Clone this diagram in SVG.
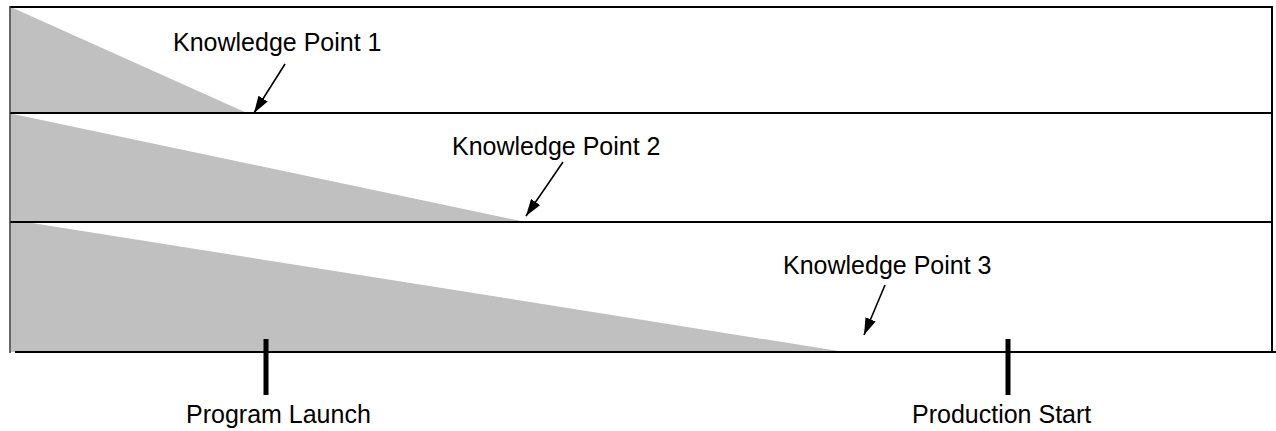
<svg xmlns="http://www.w3.org/2000/svg" width="1276" height="431" viewBox="0 0 1276 431">
<style>
.bg{fill:#fff}
.wedge{fill:#c0c0c0;stroke:none}
.frame{stroke:#000;stroke-width:2;fill:none}
.side{stroke:#333;stroke-width:1.5;fill:none}
.tick{stroke:#000;stroke-width:5}
.arrow{stroke:#000;stroke-width:1.6;fill:none;marker-end:url(#ah)}
.lbl{font-family:"Liberation Sans",Arial,sans-serif;font-size:25px;fill:#000}
</style>
<defs>
<marker id="ah" viewBox="0 0 17 11" refX="17" refY="5.5" markerWidth="17" markerHeight="11" markerUnits="userSpaceOnUse" orient="auto">
<path d="M0,0 L17,5.5 L0,11 Z" fill="#000"/>
</marker>
</defs>
<rect class="bg" x="0" y="0" width="1276" height="431"/>
<g id="bands">
<polygon class="wedge" points="11,8 13,8 247,113 11,113"/>
<polygon class="wedge" points="11,114 13,114 526,222 11,222"/>
<polygon class="wedge" points="11,223 32,223 845,352 11,352"/>
</g>
<g id="frame">
<line class="frame" x1="10" y1="7" x2="1273" y2="7"/>
<line class="frame" x1="10" y1="113" x2="1273" y2="113"/>
<line class="frame" x1="10" y1="222" x2="1273" y2="222"/>
<line class="frame" x1="15" y1="352" x2="1276" y2="352"/>
<line class="side" x1="10" y1="6" x2="10" y2="353"/>
<line class="frame" x1="1272" y1="6" x2="1272" y2="352"/>
</g>
<g id="kp1">
<text class="lbl" x="173" y="51">Knowledge Point 1</text>
</g>
<g id="kp2">
<text class="lbl" x="452" y="155">Knowledge Point 2</text>
</g>
<g id="kp3">
<text class="lbl" x="783" y="274">Knowledge Point 3</text>
</g>
<g id="launch">
<line class="tick" x1="266" y1="339" x2="266" y2="395"/>
<text class="lbl" x="186" y="423">Program Launch</text>
</g>
<g id="production">
<line class="tick" x1="1008" y1="339" x2="1008" y2="395"/>
<text class="lbl" x="912" y="423">Production Start</text>
</g>
<g id="connectors">
<line class="arrow" x1="285" y1="64" x2="254" y2="113"/>
<line class="arrow" x1="563" y1="162" x2="526" y2="216"/>
<line class="arrow" x1="885" y1="285" x2="864" y2="335"/>
</g>
</svg>
